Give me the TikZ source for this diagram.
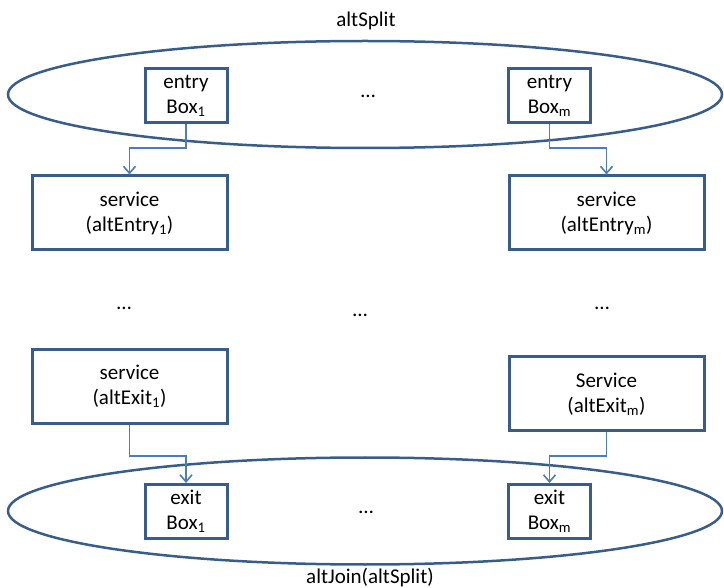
\documentclass[tikz,border=0pt]{standalone}
\usepackage{fontspec}
\setmainfont{Carlito}
\usepackage{xcolor}
\usepackage{tikz}
\usetikzlibrary{arrows.meta, positioning, shapes.geometric}

\definecolor{edgeblue}{HTML}{385D8A}
\definecolor{flowblue}{HTML}{4A7EBB}

\begin{document}
\begin{tikzpicture}[
    x=1pt, y=-1pt,
    font=\fontsize{21}{25}\selectfont,
    group/.style={draw=edgeblue, line width=2.5pt, ellipse, inner sep=0pt,
                  minimum width=714pt, minimum height=107pt},
    small/.style={draw=edgeblue, line width=3pt, fill=white, align=center,
                  inner sep=0pt, minimum width=82pt, minimum height=54pt},
    svc/.style={draw=edgeblue, line width=3pt, fill=white, align=center,
                inner sep=0pt, minimum width=195pt, minimum height=74pt},
    flow/.style={draw=flowblue, line width=1.6pt,
                 -{Straight Barb[length=7pt, width=12pt, line width=1.6pt]}},
  ]
  \useasboundingbox (0,0) rectangle (724,588);

  % altSplit
  \node[group] (split) at (365, 94.5) {};
  \node (splitlbl) at (366, 21) {altSplit};
  \node[small] (entry1) at (186, 95.5) {entry\\Box\textsubscript{1}};
  \node[small] (entrym) at (549.5, 95.5) {entry\\Box\textsubscript{m}};
  \node (splitdots) at (368, 96) {…};

  % services
  \node[svc] (enter1) at (129.5, 213) {service\\(altEntry\textsubscript{1})};
  \node[svc] (enterm) at (606.5, 213) {service\\(altEntry\textsubscript{m})};
  \node (dotsl) at (124, 308) {…};
  \node (dotsc) at (360, 315) {…};
  \node (dotsr) at (602, 308) {…};
  \node[svc] (leave1) at (129.5, 386.5) {service\\(altExit\textsubscript{1})};
  \node[svc] (leavem) at (606.5, 394) {Service\\(altExit\textsubscript{m})};

  % altJoin
  \node[group] (join) at (365, 511) {};
  \node (joinlbl) at (370, 578) {altJoin(altSplit)};
  \node[small] (exit1) at (186, 511.5) {exit\\Box\textsubscript{1}};
  \node[small] (exitm) at (549.5, 511.5) {exit\\Box\textsubscript{m}};
  \node (joindots) at (366, 512) {…};

  % connectors
  \draw[flow] (entry1.south) -- (entry1.south |- 0,148) -| (enter1.north);
  \draw[flow] (entrym.south) -- (entrym.south |- 0,148) -| (enterm.north);
  \draw[flow] (leave1.south) -- (leave1.south |- 0,456) -| (exit1.north);
  \draw[flow] (leavem.south) -- (leavem.south |- 0,456) -| (exitm.north);
\end{tikzpicture}
\end{document}
